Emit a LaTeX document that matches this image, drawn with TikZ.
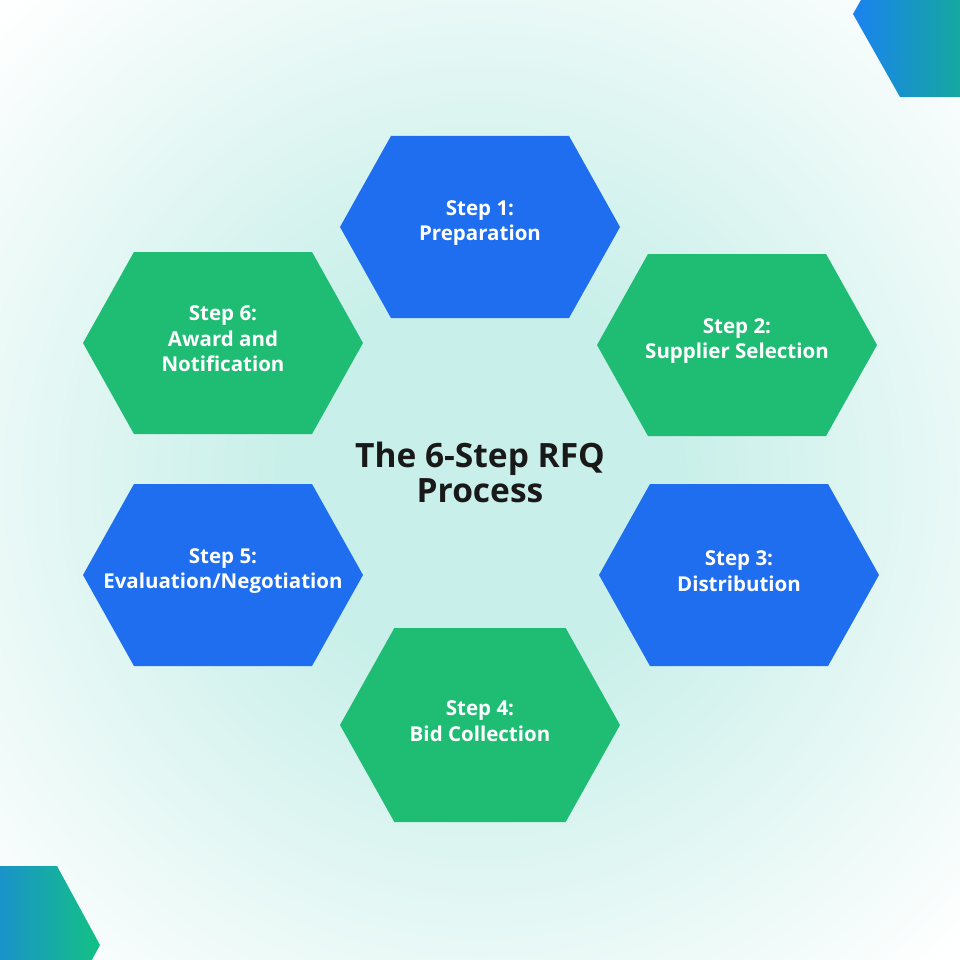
\documentclass[tikz,border=0pt]{standalone}
\usepackage{fontspec}
\setmainfont{Open Sans}
\usepackage{tikz}
\usetikzlibrary{shadings}

\definecolor{stepblue}{HTML}{1E6EEF}
\definecolor{stepgreen}{HTML}{1FBC74}
\definecolor{glowteal}{HTML}{C8EFE9}
\definecolor{cornerblue}{HTML}{1A82F0}
\definecolor{cornerteal}{HTML}{15A89E}
\definecolor{cornersea}{HTML}{1A93CA}
\definecolor{cornergreen}{HTML}{13C182}

\pgfdeclareradialshading{glow}{\pgfpoint{0bp}{0bp}}{color(0bp)=(glowteal); color(10bp)=(glowteal); color(35bp)=(white); color(50bp)=(white)}

% name, x, y, colour, text; optional half height
\newcommand{\StepHex}[6][91]{%
\fill[#5] ({#3-140},#4) -- ({#3-140+0.56*#1},{#4-#1}) -- ({#3+140-0.56*#1},{#4-#1})
 -- ({#3+140},#4) -- ({#3+140-0.56*#1},{#4+#1}) -- ({#3-140+0.56*#1},{#4+#1}) -- cycle;
\node[steptext] (#2) at (#3,{#4-4}) {#6};}

\begin{document}
\begin{tikzpicture}[x=1pt,y=-1pt]
\tikzset{steptext/.style = {
text = white,
align = center,
font = \fontsize{20.5}{25.5}\selectfont\bfseries},
titletext/.style = {
text = black!90,
align = center,
font = \fontsize{33.5}{35}\selectfont\bfseries}}
\useasboundingbox (0,0) rectangle (960,960);
\clip (0,0) rectangle (960,960);
\shade[shading=glow] (0,0) rectangle (960,960);
\shade[left color=cornerblue, right color=cornerteal] (900,-69) -- (853,14) -- (900,97) -- (960,97) -- (960,-69) -- cycle;
\shade[left color=cornersea, right color=cornergreen] (0,866) -- (57,866) -- (100,945) -- (57,1024) -- (0,1024) -- cycle;
\StepHex{s1}{480}{227}{stepblue}{Step 1:\\Preparation}
\StepHex{s2}{737}{345}{stepgreen}{Step 2:\\Supplier Selection}
\StepHex{s3}{739}{575}{stepblue}{Step 3:\\Distribution}
\StepHex[97]{s4}{480}{725}{stepgreen}{Step 4:\\Bid Collection}
\StepHex{s5}{223}{575}{stepblue}{Step 5:\\Evaluation/Negotiation}
\StepHex{s6}{223}{343}{stepgreen}{Step 6:\\Award and\\Notification}
\node[titletext] (title) at (480,472) {The 6-Step RFQ\\Process};
\end{tikzpicture}
\end{document}
